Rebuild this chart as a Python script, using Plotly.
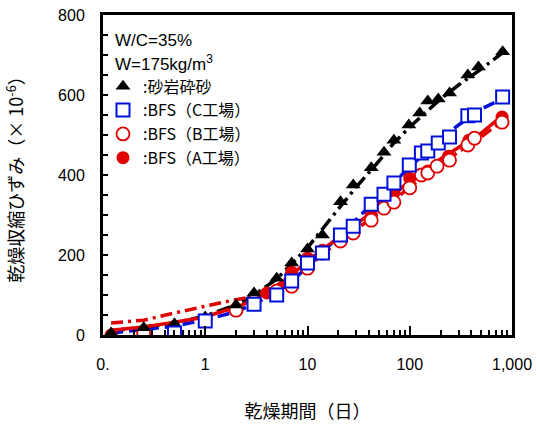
import plotly.graph_objects as go

# ---- data (days, strain x10^-6) ----
sand_t = [0.12, 0.25, 0.5, 1, 2, 3, 5, 7, 10, 14, 21, 28, 42, 56, 70, 98, 125, 150, 190, 245, 370, 470, 810]
sand_v = [5, 18, 28, 45, 75, 105, 142, 180, 215, 250, 333, 375, 418, 457, 487, 525, 555, 585, 590, 605, 650, 670, 708]

c_t = [0.5, 1, 3, 5, 7, 10, 14, 21, 28, 42, 56, 70, 99, 130, 150, 190, 245, 370, 430, 810]
c_v = [5, 35, 77, 100, 135, 180, 205, 250, 272, 327, 352, 380, 425, 455, 460, 480, 495, 548, 550, 595]

b_t = [0.25, 2, 3, 5, 7, 10, 14, 21, 28, 42, 56, 70, 100, 130, 150, 185, 245, 370, 430, 800]
b_v = [5, 62, 85, 110, 122, 167, 205, 235, 255, 287, 317, 332, 368, 400, 405, 422, 437, 475, 492, 532]

a_t = [0.12, 2, 4, 7, 10, 14, 21, 28, 42, 56, 70, 100, 150, 240, 380, 800]
a_v = [0, 62, 105, 157, 192, 212, 245, 268, 300, 335, 355, 392, 410, 447, 487, 545]

# fitted curves
fit_s_t = [0.12, 0.5, 1, 2, 3, 5, 7, 10, 20, 30, 50, 70, 100, 200, 300, 500, 800]
fit_s_v = [10, 30, 48, 75, 100, 140, 178, 218, 315, 370, 435, 480, 520, 590, 625, 665, 705]
fit_c_t = [0.12, 0.3, 0.5, 1, 2, 3, 5, 7, 10, 20, 30, 50, 100, 200, 300, 500, 800]
fit_c_v = [5, 15, 22, 38, 58, 78, 105, 135, 170, 245, 290, 345, 420, 490, 525, 565, 590]
fit_b_t = [0.12, 0.25, 0.5, 1, 1.5, 2, 3, 5, 7, 10, 20, 50, 100, 200, 500, 800]
fit_b_v = [30, 37, 55, 73, 82, 88, 97, 115, 140, 172, 232, 305, 370, 428, 495, 535]
fit_a_t = [0.12, 0.25, 0.5, 1, 1.5, 2, 4, 7, 10, 20, 50, 100, 200, 500, 800]
fit_a_v = [12, 20, 32, 45, 60, 68, 105, 150, 185, 242, 320, 385, 440, 505, 548]

x_tickvals = [0.1, 1, 10, 100, 1000]
x_ticktext = ["0.", "1", "10", "100", "1,000"]
y_tickvals = [0, 200, 400, 600, 800]

BLUE = "#0010D8"
RED = "#E00000"
FONT = "Liberation Sans, Arial, Noto Sans CJK JP, sans-serif"
CJK = "Noto Sans CJK JP, Liberation Sans, sans-serif"

fig = go.Figure()

# lines
fig.add_trace(go.Scatter(x=fit_s_t, y=fit_s_v, mode="lines", showlegend=False,
                         line=dict(color="black", width=3.5, dash="14px,5px,3px,5px")))
fig.add_trace(go.Scatter(x=fit_c_t, y=fit_c_v, mode="lines", showlegend=False,
                         line=dict(color=BLUE, width=3.5, dash="12px,6px")))
fig.add_trace(go.Scatter(x=fit_b_t, y=fit_b_v, mode="lines", showlegend=False,
                         line=dict(color=RED, width=3.5, dash="12px,5px,3px,5px")))
fig.add_trace(go.Scatter(x=fit_a_t, y=fit_a_v, mode="lines", showlegend=False,
                         line=dict(color=RED, width=3.5)))

# markers (legend order: sand, C, B, A)
fig.add_trace(go.Scatter(x=a_t, y=a_v, mode="markers", name=":BFS（A工場）", legendrank=4,
                         marker=dict(symbol="circle", size=13, color=RED, line=dict(width=0))))
fig.add_trace(go.Scatter(x=b_t, y=b_v, mode="markers", name=":BFS（B工場）", legendrank=3,
                         marker=dict(symbol="circle", size=13, color="white", line=dict(color=RED, width=1.8))))
fig.add_trace(go.Scatter(x=sand_t, y=sand_v, mode="markers", name=":砂岩砕砂", legendrank=1,
                         marker=dict(symbol="triangle-up", size=13, color="black", line=dict(width=0))))
fig.add_trace(go.Scatter(x=c_t, y=c_v, mode="markers", name=":BFS（C工場）", legendrank=2,
                         marker=dict(symbol="square", size=13, color="white", line=dict(color=BLUE, width=2))))

fig.update_layout(
    width=537, height=427,
    margin=dict(l=103, r=25, t=15, b=92),
    paper_bgcolor="white", plot_bgcolor="white",
    font=dict(family=FONT, size=16, color="black"),
    showlegend=True,
    legend=dict(x=0.0, y=0.83, xanchor="left", yanchor="top",
                bgcolor="rgba(0,0,0,0)", borderwidth=0,
                font=dict(family=CJK, size=16, color="black"),
                tracegroupgap=0, itemsizing="trace"),
    xaxis=dict(type="log", range=[-1, 3], automargin=False,
               tickmode="array", tickvals=x_tickvals, ticktext=x_ticktext,
               ticks="inside", ticklen=9, tickwidth=2, tickcolor="black",
               showline=True, linewidth=3, linecolor="black", mirror=True,
               showgrid=False, zeroline=False,
               ticklabelstandoff=13,
               tickfont=dict(family=FONT, size=16),
               minor=dict(tickmode="array",
                          tickvals=[m * d for d in [0.1, 1, 10, 100] for m in range(2, 10)],
                          ticks="inside", ticklen=5, tickwidth=2, tickcolor="black", showgrid=False),
               title=dict(text="乾燥期間（日）", font=dict(family=CJK, size=18), standoff=34)),
    yaxis=dict(range=[0, 800], automargin=False,
               tickmode="array", tickvals=y_tickvals,
               ticks="inside", ticklen=5, tickwidth=2, tickcolor="black",
               showline=True, linewidth=3, linecolor="black", mirror=True,
               showgrid=False, zeroline=False,
               ticklabelstandoff=12,
               tickfont=dict(family=FONT, size=16),
               minor=dict(dtick=50, ticks="inside", ticklen=5, tickwidth=2, tickcolor="black", showgrid=False),
               title=dict(text="乾燥収縮ひずみ（× 10<sup>-6</sup>）", font=dict(family=CJK, size=18), standoff=30)),
    annotations=[
        dict(text="W/C=35%", xref="paper", yref="paper", x=0.025, y=(335 - 40) / 320,
             xanchor="left", yanchor="middle", showarrow=False, font=dict(family=FONT, size=17)),
        dict(text="W=175kg/m<sup>3</sup>", xref="paper", yref="paper", x=0.025, y=(335 - 63) / 320,
             xanchor="left", yanchor="middle", showarrow=False, font=dict(family=FONT, size=17)),
    ],
)

fig.write_html("out.html")
